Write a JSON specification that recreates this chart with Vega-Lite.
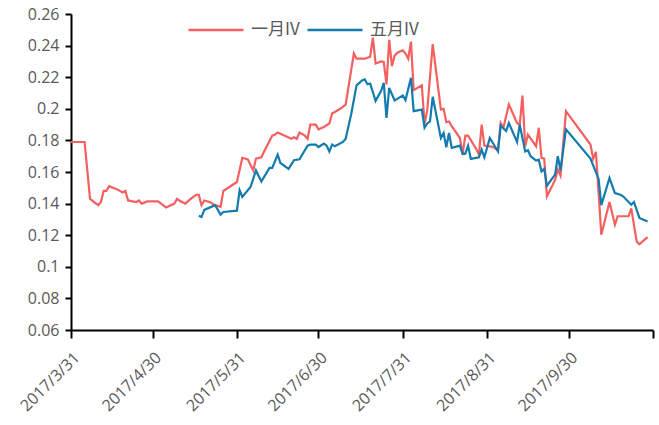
{
"$schema": "https://vega.github.io/schema/vega-lite/v6.json",
"width": 582, "height": 316,
"autosize": {"type": "none"},
"padding": {"left": 71, "top": 14, "right": 6, "bottom": 95},
"background": "white",
"config": {"view": {"stroke": null}, "font": "Open Sans"},
"data": {"values": [
{"date":"2017/03/31","series":"一月IV","iv":0.179},{"date":"2017/04/05","series":"一月IV","iv":0.179},{"date":"2017/04/07","series":"一月IV","iv":0.143},{"date":"2017/04/10","series":"一月IV","iv":0.139},{"date":"2017/04/11","series":"一月IV","iv":0.141},{"date":"2017/04/12","series":"一月IV","iv":0.148},{"date":"2017/04/13","series":"一月IV","iv":0.148},{"date":"2017/04/14","series":"一月IV","iv":0.151},{"date":"2017/04/17","series":"一月IV","iv":0.149},{"date":"2017/04/19","series":"一月IV","iv":0.147},{"date":"2017/04/20","series":"一月IV","iv":0.148},{"date":"2017/04/21","series":"一月IV","iv":0.142},{"date":"2017/04/24","series":"一月IV","iv":0.141},{"date":"2017/04/25","series":"一月IV","iv":0.142},{"date":"2017/04/26","series":"一月IV","iv":0.140},{"date":"2017/04/28","series":"一月IV","iv":0.1414},{"date":"2017/05/02","series":"一月IV","iv":0.1414},{"date":"2017/05/05","series":"一月IV","iv":0.1376},{"date":"2017/05/08","series":"一月IV","iv":0.140},{"date":"2017/05/09","series":"一月IV","iv":0.143},{"date":"2017/05/10","series":"一月IV","iv":0.1418},{"date":"2017/05/12","series":"一月IV","iv":0.140},{"date":"2017/05/14","series":"一月IV","iv":0.143},{"date":"2017/05/16","series":"一月IV","iv":0.1456},{"date":"2017/05/17","series":"一月IV","iv":0.1456},{"date":"2017/05/18","series":"一月IV","iv":0.139},{"date":"2017/05/19","series":"一月IV","iv":0.142},{"date":"2017/05/21","series":"一月IV","iv":0.141},{"date":"2017/05/23","series":"一月IV","iv":0.139},{"date":"2017/05/25","series":"一月IV","iv":0.138},{"date":"2017/05/26","series":"一月IV","iv":0.148},{"date":"2017/05/31","series":"一月IV","iv":0.1537},{"date":"2017/06/02","series":"一月IV","iv":0.169},{"date":"2017/06/04","series":"一月IV","iv":0.168},{"date":"2017/06/06","series":"一月IV","iv":0.161},{"date":"2017/06/07","series":"一月IV","iv":0.1685},{"date":"2017/06/09","series":"一月IV","iv":0.1693},{"date":"2017/06/10","series":"一月IV","iv":0.173},{"date":"2017/06/13","series":"一月IV","iv":0.183},{"date":"2017/06/14","series":"一月IV","iv":0.1837},{"date":"2017/06/15","series":"一月IV","iv":0.185},{"date":"2017/06/18","series":"一月IV","iv":0.1826},{"date":"2017/06/20","series":"一月IV","iv":0.181},{"date":"2017/06/21","series":"一月IV","iv":0.182},{"date":"2017/06/22","series":"一月IV","iv":0.181},{"date":"2017/06/23","series":"一月IV","iv":0.185},{"date":"2017/06/25","series":"一月IV","iv":0.183},{"date":"2017/06/26","series":"一月IV","iv":0.181},{"date":"2017/06/27","series":"一月IV","iv":0.190},{"date":"2017/06/29","series":"一月IV","iv":0.190},{"date":"2017/06/30","series":"一月IV","iv":0.187},{"date":"2017/07/02","series":"一月IV","iv":0.1885},{"date":"2017/07/04","series":"一月IV","iv":0.1907},{"date":"2017/07/05","series":"一月IV","iv":0.197},{"date":"2017/07/06","series":"一月IV","iv":0.198},{"date":"2017/07/08","series":"一月IV","iv":0.200},{"date":"2017/07/10","series":"一月IV","iv":0.2027},{"date":"2017/07/13","series":"一月IV","iv":0.235},{"date":"2017/07/14","series":"一月IV","iv":0.2317},{"date":"2017/07/15","series":"一月IV","iv":0.2317},{"date":"2017/07/17","series":"一月IV","iv":0.2317},{"date":"2017/07/19","series":"一月IV","iv":0.233},{"date":"2017/07/20","series":"一月IV","iv":0.245},{"date":"2017/07/21","series":"一月IV","iv":0.2287},{"date":"2017/07/23","series":"一月IV","iv":0.230},{"date":"2017/07/24","series":"一月IV","iv":0.2297},{"date":"2017/07/25","series":"一月IV","iv":0.2154},{"date":"2017/07/26","series":"一月IV","iv":0.2437},{"date":"2017/07/27","series":"一月IV","iv":0.227},{"date":"2017/07/28","series":"一月IV","iv":0.2336},{"date":"2017/07/29","series":"一月IV","iv":0.2355},{"date":"2017/07/31","series":"一月IV","iv":0.237},{"date":"2017/08/01","series":"一月IV","iv":0.235},{"date":"2017/08/02","series":"一月IV","iv":0.2317},{"date":"2017/08/03","series":"一月IV","iv":0.2425},{"date":"2017/08/04","series":"一月IV","iv":0.2118},{"date":"2017/08/07","series":"一月IV","iv":0.2148},{"date":"2017/08/08","series":"一月IV","iv":0.1907},{"date":"2017/08/09","series":"一月IV","iv":0.199},{"date":"2017/08/11","series":"一月IV","iv":0.241},{"date":"2017/08/14","series":"一月IV","iv":0.1995},{"date":"2017/08/15","series":"一月IV","iv":0.200},{"date":"2017/08/16","series":"一月IV","iv":0.1915},{"date":"2017/08/17","series":"一月IV","iv":0.192},{"date":"2017/08/18","series":"一月IV","iv":0.189},{"date":"2017/08/21","series":"一月IV","iv":0.1815},{"date":"2017/08/22","series":"一月IV","iv":0.1714},{"date":"2017/08/23","series":"一月IV","iv":0.183},{"date":"2017/08/24","series":"一月IV","iv":0.183},{"date":"2017/08/27","series":"一月IV","iv":0.1746},{"date":"2017/08/28","series":"一月IV","iv":0.171},{"date":"2017/08/29","series":"一月IV","iv":0.190},{"date":"2017/08/30","series":"一月IV","iv":0.1767},{"date":"2017/09/02","series":"一月IV","iv":0.1759},{"date":"2017/09/04","series":"一月IV","iv":0.1738},{"date":"2017/09/05","series":"一月IV","iv":0.191},{"date":"2017/09/06","series":"一月IV","iv":0.188},{"date":"2017/09/08","series":"一月IV","iv":0.2027},{"date":"2017/09/11","series":"一月IV","iv":0.191},{"date":"2017/09/12","series":"一月IV","iv":0.190},{"date":"2017/09/13","series":"一月IV","iv":0.2084},{"date":"2017/09/14","series":"一月IV","iv":0.1763},{"date":"2017/09/15","series":"一月IV","iv":0.1837},{"date":"2017/09/18","series":"一月IV","iv":0.1763},{"date":"2017/09/19","series":"一月IV","iv":0.188},{"date":"2017/09/20","series":"一月IV","iv":0.169},{"date":"2017/09/21","series":"一月IV","iv":0.1685},{"date":"2017/09/22","series":"一月IV","iv":0.1446},{"date":"2017/09/25","series":"一月IV","iv":0.155},{"date":"2017/09/26","series":"一月IV","iv":0.1615},{"date":"2017/09/27","series":"一月IV","iv":0.1577},{"date":"2017/09/29","series":"一月IV","iv":0.1985},{"date":"2017/10/08","series":"一月IV","iv":0.1774},{"date":"2017/10/09","series":"一月IV","iv":0.1683},{"date":"2017/10/10","series":"一月IV","iv":0.1727},{"date":"2017/10/12","series":"一月IV","iv":0.1203},{"date":"2017/10/15","series":"一月IV","iv":0.141},{"date":"2017/10/17","series":"一月IV","iv":0.1266},{"date":"2017/10/18","series":"一月IV","iv":0.132},{"date":"2017/10/22","series":"一月IV","iv":0.132},{"date":"2017/10/23","series":"一月IV","iv":0.137},{"date":"2017/10/25","series":"一月IV","iv":0.116},{"date":"2017/10/26","series":"一月IV","iv":0.1143},{"date":"2017/10/29","series":"一月IV","iv":0.1188},
{"date":"2017/05/17","series":"五月IV","iv":0.1323},{"date":"2017/05/18","series":"五月IV","iv":0.1315},{"date":"2017/05/19","series":"五月IV","iv":0.136},{"date":"2017/05/23","series":"五月IV","iv":0.139},{"date":"2017/05/25","series":"五月IV","iv":0.133},{"date":"2017/05/26","series":"五月IV","iv":0.1347},{"date":"2017/05/31","series":"五月IV","iv":0.1355},{"date":"2017/06/01","series":"五月IV","iv":0.1484},{"date":"2017/06/02","series":"五月IV","iv":0.1442},{"date":"2017/06/05","series":"五月IV","iv":0.1505},{"date":"2017/06/07","series":"五月IV","iv":0.161},{"date":"2017/06/09","series":"五月IV","iv":0.154},{"date":"2017/06/12","series":"五月IV","iv":0.1626},{"date":"2017/06/13","series":"五月IV","iv":0.1626},{"date":"2017/06/15","series":"五月IV","iv":0.171},{"date":"2017/06/16","series":"五月IV","iv":0.1657},{"date":"2017/06/19","series":"五月IV","iv":0.162},{"date":"2017/06/21","series":"五月IV","iv":0.1675},{"date":"2017/06/23","series":"五月IV","iv":0.168},{"date":"2017/06/26","series":"五月IV","iv":0.1767},{"date":"2017/06/27","series":"五月IV","iv":0.1773},{"date":"2017/06/29","series":"五月IV","iv":0.1773},{"date":"2017/06/30","series":"五月IV","iv":0.1758},{"date":"2017/07/02","series":"五月IV","iv":0.178},{"date":"2017/07/03","series":"五月IV","iv":0.1767},{"date":"2017/07/04","series":"五月IV","iv":0.173},{"date":"2017/07/05","series":"五月IV","iv":0.1773},{"date":"2017/07/06","series":"五月IV","iv":0.1763},{"date":"2017/07/09","series":"五月IV","iv":0.179},{"date":"2017/07/10","series":"五月IV","iv":0.181},{"date":"2017/07/12","series":"五月IV","iv":0.1964},{"date":"2017/07/14","series":"五月IV","iv":0.2148},{"date":"2017/07/16","series":"五月IV","iv":0.218},{"date":"2017/07/17","series":"五月IV","iv":0.2186},{"date":"2017/07/18","series":"五月IV","iv":0.2155},{"date":"2017/07/19","series":"五月IV","iv":0.216},{"date":"2017/07/21","series":"五月IV","iv":0.205},{"date":"2017/07/23","series":"五月IV","iv":0.2112},{"date":"2017/07/24","series":"五月IV","iv":0.2165},{"date":"2017/07/25","series":"五月IV","iv":0.1943},{"date":"2017/07/26","series":"五月IV","iv":0.2132},{"date":"2017/07/28","series":"五月IV","iv":0.2053},{"date":"2017/07/30","series":"五月IV","iv":0.2074},{"date":"2017/07/31","series":"五月IV","iv":0.2084},{"date":"2017/08/01","series":"五月IV","iv":0.2055},{"date":"2017/08/03","series":"五月IV","iv":0.2196},{"date":"2017/08/04","series":"五月IV","iv":0.1985},{"date":"2017/08/07","series":"五月IV","iv":0.1995},{"date":"2017/08/08","series":"五月IV","iv":0.188},{"date":"2017/08/09","series":"五月IV","iv":0.1907},{"date":"2017/08/10","series":"五月IV","iv":0.192},{"date":"2017/08/11","series":"五月IV","iv":0.2076},{"date":"2017/08/14","series":"五月IV","iv":0.1815},{"date":"2017/08/15","series":"五月IV","iv":0.1847},{"date":"2017/08/16","series":"五月IV","iv":0.1757},{"date":"2017/08/17","series":"五月IV","iv":0.1847},{"date":"2017/08/18","series":"五月IV","iv":0.1753},{"date":"2017/08/21","series":"五月IV","iv":0.1767},{"date":"2017/08/22","series":"五月IV","iv":0.1714},{"date":"2017/08/23","series":"五月IV","iv":0.1716},{"date":"2017/08/24","series":"五月IV","iv":0.1767},{"date":"2017/08/25","series":"五月IV","iv":0.1683},{"date":"2017/08/28","series":"五月IV","iv":0.1693},{"date":"2017/08/29","series":"五月IV","iv":0.1742},{"date":"2017/08/30","series":"五月IV","iv":0.1693},{"date":"2017/09/01","series":"五月IV","iv":0.1815},{"date":"2017/09/04","series":"五月IV","iv":0.173},{"date":"2017/09/05","series":"五月IV","iv":0.1894},{"date":"2017/09/07","series":"五月IV","iv":0.186},{"date":"2017/09/08","series":"五月IV","iv":0.191},{"date":"2017/09/11","series":"五月IV","iv":0.179},{"date":"2017/09/12","series":"五月IV","iv":0.190},{"date":"2017/09/14","series":"五月IV","iv":0.173},{"date":"2017/09/15","series":"五月IV","iv":0.1738},{"date":"2017/09/16","series":"五月IV","iv":0.170},{"date":"2017/09/18","series":"五月IV","iv":0.1672},{"date":"2017/09/19","series":"五月IV","iv":0.1678},{"date":"2017/09/20","series":"五月IV","iv":0.1604},{"date":"2017/09/21","series":"五月IV","iv":0.162},{"date":"2017/09/22","series":"五月IV","iv":0.1513},{"date":"2017/09/25","series":"五月IV","iv":0.1583},{"date":"2017/09/26","series":"五月IV","iv":0.170},{"date":"2017/09/27","series":"五月IV","iv":0.161},{"date":"2017/09/29","series":"五月IV","iv":0.187},{"date":"2017/10/08","series":"五月IV","iv":0.1685},{"date":"2017/10/11","series":"五月IV","iv":0.1556},{"date":"2017/10/12","series":"五月IV","iv":0.139},{"date":"2017/10/15","series":"五月IV","iv":0.1562},{"date":"2017/10/17","series":"五月IV","iv":0.1467},{"date":"2017/10/19","series":"五月IV","iv":0.1456},{"date":"2017/10/20","series":"五月IV","iv":0.1446},{"date":"2017/10/23","series":"五月IV","iv":0.1393},{"date":"2017/10/24","series":"五月IV","iv":0.141},{"date":"2017/10/26","series":"五月IV","iv":0.1309},{"date":"2017/10/29","series":"五月IV","iv":0.1287}
]},
"mark": {"type": "line", "strokeWidth": 2.2},
"encoding": {
  "x": {"field": "date", "type": "temporal",
    "scale": {"domain": [{"year": 2017, "month": 3, "date": 31}, {"year": 2017, "month": 10, "date": 31}]},
    "axis": {"title": null, "grid": false,
      "values": [{"year": 2017, "month": 3, "date": 31}, {"year": 2017, "month": 4, "date": 30}, {"year": 2017, "month": 5, "date": 31}, {"year": 2017, "month": 6, "date": 30}, {"year": 2017, "month": 7, "date": 31}, {"year": 2017, "month": 8, "date": 31}, {"year": 2017, "month": 9, "date": 30}, {"year": 2017, "month": 10, "date": 31}],
      "labelExpr": "month(datum.value) == 9 ? '' : timeFormat(datum.value, '%Y/%-m/%-d')",
      "labelAngle": -45, "labelColor": "#595959", "labelFontSize": 16, "labelFont": "Open Sans",
      "labelPadding": 11, "labelOverlap": false, "labelFlush": false,
      "domainColor": "black", "domainWidth": 2, "tickColor": "black", "tickWidth": 2, "tickSize": 8}},
  "y": {"field": "iv", "type": "quantitative",
    "scale": {"domain": [0.06, 0.26], "zero": false, "nice": false},
    "axis": {"title": null, "grid": false,
      "values": [0.06, 0.08, 0.1, 0.12, 0.14, 0.16, 0.18, 0.2, 0.22, 0.24, 0.26],
      "format": "~g", "labelColor": "#595959", "labelFontSize": 16, "labelFont": "Open Sans",
      "labelPadding": 6, "labelFlush": false,
      "domainColor": "black", "domainWidth": 2, "tickColor": "black", "tickWidth": 2, "tickSize": 6}},
  "color": {"field": "series", "type": "nominal",
    "scale": {"domain": ["一月IV", "五月IV"], "range": ["#F4605F", "#137BAE"]},
    "legend": {"title": null, "orient": "none", "legendX": 116, "legendY": -13, "direction": "horizontal",
      "symbolType": "stroke", "symbolSize": 3025, "symbolStrokeWidth": 2.5,
      "labelFontSize": 17, "labelColor": "#595959", "labelFont": "Noto Sans CJK SC",
      "columnPadding": 2, "labelOffset": 6}}
}
}
